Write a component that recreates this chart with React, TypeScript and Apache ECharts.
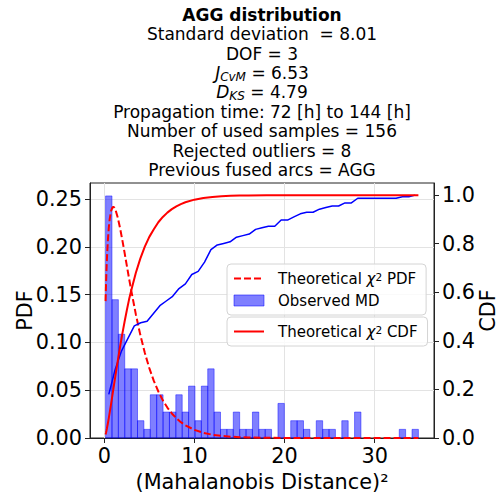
import React, { useEffect, useRef } from 'react';
import * as echarts from 'echarts';

// ---- data ----
const nSamples = 156;
const binMin = 0.15;
const binMax = 34.85;
const binCounts = [
  28, 16, 12, 8, 8, 2, 1, 5, 5, 3,
  3, 5, 3, 6, 2, 6, 8, 3, 1, 1,
  3, 1, 1, 3, 1, 1, 0, 4, 0, 2,
  2, 1, 0, 2, 1, 1, 0, 2, 0, 3,
  0, 0, 0, 0, 0, 0, 1, 0, 1,
];

const theoX = [
  0.15, 0.2, 0.25, 0.3, 0.4, 0.5, 0.6, 0.75, 0.9, 1,
  1.1, 1.25, 1.5, 1.75, 2, 2.25, 2.5, 2.75, 3, 3.5,
  4, 4.5, 5, 5.5, 6, 6.5, 7, 7.5, 8, 8.5,
  9, 10, 11, 12, 13, 14, 15, 16, 18, 20,
  22, 25, 30, 34.85,
];
const theoPdf = [
  0.1433, 0.1614, 0.176, 0.1881, 0.2066, 0.2197, 0.2289, 0.2375, 0.2413, 0.242,
  0.2414, 0.2388, 0.2308, 0.22, 0.2076, 0.1943, 0.1807, 0.1672, 0.1542, 0.1297,
  0.108, 0.0892, 0.0732, 0.0598, 0.0487, 0.0394, 0.0319, 0.0257, 0.0207, 0.0166,
  0.0133, 0.0085, 0.0054, 0.0034, 0.0022, 0.0014, 0.0009, 0.0005, 0.0002, 0.0001,
  0.00003, 0, 0, 0,
];
const theoCdf = [
  0.0147, 0.0224, 0.0308, 0.04, 0.0598, 0.0811, 0.1036, 0.1386, 0.1746, 0.1987,
  0.2229, 0.2589, 0.3177, 0.3747, 0.4276, 0.4778, 0.5248, 0.5699, 0.6084, 0.6792,
  0.7385, 0.7877, 0.8282, 0.8595, 0.8884, 0.9102, 0.9281, 0.9425, 0.954, 0.9633,
  0.9707, 0.9814, 0.9883, 0.9926, 0.9954, 0.9971, 0.9982, 0.9989, 0.9996, 0.9998,
  0.99995, 1, 1, 1,
];

const xTicks = [0, 10, 20, 30];
const pdfTicks = [0, 0.05, 0.1, 0.15, 0.2, 0.25];
const cdfTicks = [0, 0.2, 0.4, 0.6, 0.8, 1.0];

const titleLines = [
  '{b|AGG distribution}',
  '{n|Standard deviation  = 8.01}',
  '{n|DOF = 3}',
  '{i|J}{s|CvM}{n| = 6.53}',
  '{i|D}{s|KS}{n| = 4.79}',
  '{n|Propagation time: 72 [h] to 144 [h]}',
  '{n|Number of used samples = 156}',
  '{n|Rejected outliers = 8}',
  '{n|Previous fused arcs = AGG}',
];

const NAME_PDF = 'Theoretical χ2 PDF';
const NAME_HIST = 'Observed MD';
const NAME_CDF = 'Theoretical χ2 CDF';
const NAME_ECDF = 'Observed CDF';

const FONT = 'DejaVu Sans';
const BIG = 20.8;

export default function App() {
  const ref = useRef<HTMLDivElement>(null);

  useEffect(() => {
    document.body.style.margin = '0';
    if (!ref.current) return;
    const chart = echarts.init(ref.current, undefined, { renderer: 'svg' });

    const nb = binCounts.length;
    const w = (binMax - binMin) / nb;
    const histData = binCounts.map((c, i) => [
      binMin + i * w,
      binMin + (i + 1) * w,
      c / (nSamples * w),
    ]);
    let cum = 0;
    const ecdfData = binCounts.map((c, i) => {
      cum += c;
      return [binMin + (i + 0.5) * w, cum / nSamples];
    });
    const pdfData = theoX.map((x, i) => [x, theoPdf[i]]);
    const cdfData = theoX.map((x, i) => [x, theoCdf[i]]);

    const legendRich = {
      chi: { fontStyle: 'italic', fontSize: 15, fontFamily: FONT, color: '#000' },
      sup: { fontSize: 10.5, fontFamily: FONT, verticalAlign: 'top', lineHeight: 12, color: '#000' },
    };
    const legendFormatter = (name: string) =>
      name.replace('χ2', '{chi|χ}{sup|2}');

    const legendCommon = {
      orient: 'vertical',
      left: 227,
      selectedMode: false,
      backgroundColor: 'rgba(255,255,255,0.8)',
      borderColor: '#d4d4d4',
      borderWidth: 1,
      borderRadius: 4,
      itemWidth: 30,
      itemHeight: 11,
      itemGap: 7,
      padding: [7, 10, 7, 6],
      formatter: legendFormatter,
      textStyle: {
        fontSize: 15,
        fontFamily: FONT,
        color: '#000',
        padding: [0, 0, 0, 9],
        rich: legendRich,
      },
    };

    const base = { fontFamily: FONT, color: '#000', fontWeight: 'normal' };

    chart.setOption({
      animation: false,
      title: {
        text: titleLines.join('\n'),
        left: 262,
        top: 5,
        textAlign: 'center',
        padding: 0,
        textStyle: {
          fontFamily: FONT,
          fontWeight: 'normal',
          fontSize: 17,
          color: '#000',
          rich: {
            b: { ...base, fontSize: 17, fontWeight: 'bold', lineHeight: 19.4 },
            n: { ...base, fontSize: 17, lineHeight: 19.4 },
            i: { ...base, fontSize: 17, fontStyle: 'italic', lineHeight: 19.4 },
            s: { ...base, fontSize: 12, fontStyle: 'italic', lineHeight: 10, verticalAlign: 'bottom' },
          },
        },
      },
      grid: {
        left: 90,
        top: 183,
        width: 344,
        height: 255,
        containLabel: false,
        outerBoundsMode: 'none',
        show: true,
        borderColor: '#222',
        borderWidth: 1,
        backgroundColor: 'transparent',
      },
      legend: [
        {
          ...legendCommon,
          top: 264,
          data: [
            { name: NAME_PDF, itemStyle: { opacity: 0 } },
            {
              name: NAME_HIST,
              icon: 'rect',
              itemStyle: { color: 'rgba(0,0,255,0.5)', borderColor: 'rgba(0,0,255,0.5)', borderWidth: 1 },
            },
          ],
        },
        {
          ...legendCommon,
          top: 317,
          data: [{ name: NAME_CDF, itemStyle: { opacity: 0 } }],
        },
      ],
      xAxis: {
        type: 'value',
        min: -1.58,
        max: 36.58,
        splitNumber: 4,
        name: '(Mahalanobis Distance)²',
        nameLocation: 'middle',
        nameGap: 33,
        nameMoveOverlap: false,
        nameTextStyle: { fontSize: BIG, fontFamily: FONT, color: '#000' },
        axisLine: { show: true, onZero: false, lineStyle: { color: '#222', width: 1 } },
        axisTick: { show: true, customValues: xTicks, length: 5, lineStyle: { color: '#222' } },
        axisLabel: { customValues: xTicks, fontSize: BIG, fontFamily: FONT, color: '#000', margin: 7 },
        splitLine: { show: true, lineStyle: { color: '#e3e3e3', width: 1 } },
      },
      yAxis: [
        {
          type: 'value',
          position: 'left',
          min: 0,
          max: 0.267,
          interval: 0.05,
          name: 'PDF',
          nameLocation: 'middle',
          nameRotate: 90,
          nameGap: 55,
          nameMoveOverlap: false,
          nameTextStyle: { fontSize: BIG, fontFamily: FONT, color: '#000' },
          axisLine: { show: true, onZero: false, lineStyle: { color: '#222', width: 1 } },
          axisTick: { show: true, customValues: pdfTicks, length: 5, lineStyle: { color: '#222' } },
          axisLabel: {
            customValues: pdfTicks,
            fontSize: BIG,
            fontFamily: FONT,
            color: '#000',
            margin: 8,
            formatter: (v: number) => v.toFixed(2),
          },
          splitLine: { show: true, lineStyle: { color: '#e3e3e3', width: 1 } },
        },
        {
          type: 'value',
          position: 'right',
          min: 0,
          max: 1.05,
          interval: 0.2,
          name: 'CDF',
          nameLocation: 'middle',
          nameRotate: 90,
          nameGap: 43,
          nameMoveOverlap: false,
          nameTextStyle: { fontSize: BIG, fontFamily: FONT, color: '#000' },
          axisLine: { show: true, onZero: false, lineStyle: { color: '#222', width: 1 } },
          axisTick: { show: true, customValues: cdfTicks, length: 5, lineStyle: { color: '#222' } },
          axisLabel: {
            customValues: cdfTicks,
            fontSize: BIG,
            fontFamily: FONT,
            color: '#000',
            margin: 8,
            formatter: (v: number) => v.toFixed(1),
          },
          splitLine: { show: false },
        },
      ],
      series: [
        {
          name: NAME_HIST,
          type: 'custom',
          xAxisIndex: 0,
          yAxisIndex: 0,
          z: 1,
          itemStyle: { color: 'rgba(0,0,255,0.5)' },
          encode: { x: [0, 1], y: 2 },
          data: histData,
          renderItem: (params: any, api: any) => {
            const h = api.value(2);
            if (!h) return null;
            const p0 = api.coord([api.value(0), h]);
            const p1 = api.coord([api.value(1), 0]);
            return {
              type: 'rect',
              shape: { x: p0[0], y: p0[1], width: p1[0] - p0[0], height: p1[1] - p0[1] },
              style: { fill: 'rgba(0,0,255,0.5)', stroke: 'rgba(0,0,255,0.45)', lineWidth: 1 },
            };
          },
        },
        {
          name: NAME_PDF,
          type: 'line',
          yAxisIndex: 0,
          data: pdfData,
          symbol: 'none',
          z: 3,
          lineStyle: { color: 'red', width: 2, type: [7, 3] },
          itemStyle: { color: 'red' },
        },
        {
          name: NAME_ECDF,
          type: 'line',
          yAxisIndex: 1,
          data: ecdfData,
          symbol: 'none',
          z: 3,
          lineStyle: { color: 'blue', width: 1.5 },
          itemStyle: { color: 'blue' },
        },
        {
          name: NAME_CDF,
          type: 'line',
          yAxisIndex: 1,
          data: cdfData,
          symbol: 'none',
          z: 4,
          lineStyle: { color: 'red', width: 2 },
          itemStyle: { color: 'red' },
        },
      ],
    });

    return () => chart.dispose();
  }, []);

  return <div ref={ref} style={{ width: 500, height: 494 }} />;
}
